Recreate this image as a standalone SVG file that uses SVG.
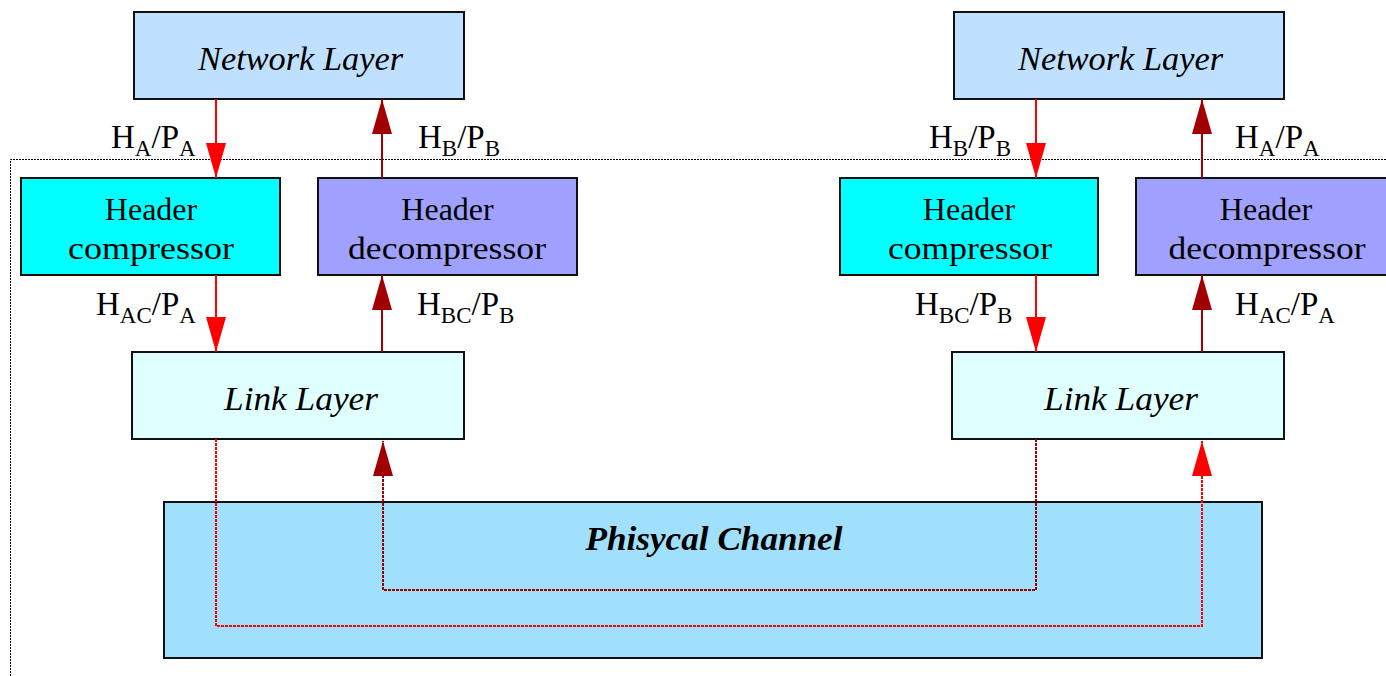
<svg xmlns="http://www.w3.org/2000/svg" width="1386" height="676" viewBox="0 0 1386 676">
  <style>
    .box{stroke:#111;stroke-width:2}
    .net{fill:#C0E0FF}
    .comp{fill:#00FFFF}
    .decomp{fill:#A0A0FF}
    .link{fill:#E0FFFF}
    .phy{fill:#A0E0FC}
    .t{font-family:"Liberation Serif","Times New Roman",serif;font-size:32px;text-anchor:middle;fill:#000}
    .it{font-style:italic;font-size:33px}
    .bi{font-style:italic;font-weight:bold;font-size:34px}
    .lbl{font-family:"Liberation Serif","Times New Roman",serif;font-size:33px;fill:#000}
    .sub{font-size:23px}
    .red{stroke:#FF0000;stroke-width:2;fill:none}
    .dred{stroke:#A00000;stroke-width:2;fill:none}
    .dot{stroke-dasharray:3 1}
    .frame{stroke:#000;stroke-width:1;fill:none;stroke-dasharray:2 1}
  </style>
  <defs>
    <marker id="ahRed" markerUnits="userSpaceOnUse" markerWidth="36" markerHeight="22" refX="35" refY="10" orient="auto">
      <path d="M0,0 L35,10 L0,20 z" fill="#FF0000"/>
    </marker>
    <marker id="ahDark" markerUnits="userSpaceOnUse" markerWidth="36" markerHeight="22" refX="35" refY="10" orient="auto">
      <path d="M0,0 L35,10 L0,20 z" fill="#A00000"/>
    </marker>
  </defs>

  <!-- host boundary -->
  <path class="frame" d="M10.5,676 V159.5 H1386"/>

  <!-- physical channel -->
  <g id="physical-channel">
    <rect class="box phy" x="164" y="502" width="1098" height="156"/>
    <text class="t bi" x="714" y="550" textLength="257" lengthAdjust="spacingAndGlyphs">Phisycal Channel</text>
  </g>

  <!-- host A -->
  <g id="network-a">
    <rect class="box net" x="134" y="12" width="330" height="87"/>
    <text class="t it" x="300.5" y="70" textLength="205" lengthAdjust="spacingAndGlyphs">Network Layer</text>
  </g>
  <g id="compressor-a">
    <rect class="box comp" x="21" y="178" width="259" height="97"/>
    <text class="t" x="151" y="220">Header</text>
    <text class="t" x="151" y="259" textLength="166" lengthAdjust="spacingAndGlyphs">compressor</text>
  </g>
  <g id="decompressor-a">
    <rect class="box decomp" x="318" y="178" width="259" height="97"/>
    <text class="t" x="447.5" y="220">Header</text>
    <text class="t" x="447" y="259" textLength="198" lengthAdjust="spacingAndGlyphs">decompressor</text>
  </g>
  <g id="link-a">
    <rect class="box link" x="132" y="352" width="332" height="87"/>
    <text class="t it" x="301" y="410" textLength="154" lengthAdjust="spacingAndGlyphs">Link Layer</text>
  </g>

  <!-- host B -->
  <g id="network-b">
    <rect class="box net" x="954" y="12" width="330" height="87"/>
    <text class="t it" x="1120.5" y="70" textLength="205" lengthAdjust="spacingAndGlyphs">Network Layer</text>
  </g>
  <g id="compressor-b">
    <rect class="box comp" x="840" y="178" width="258" height="97"/>
    <text class="t" x="969" y="220">Header</text>
    <text class="t" x="970" y="259" textLength="164" lengthAdjust="spacingAndGlyphs">compressor</text>
  </g>
  <g id="decompressor-b">
    <rect class="box decomp" x="1136" y="178" width="262" height="97"/>
    <text class="t" x="1266" y="220">Header</text>
    <text class="t" x="1267" y="259" textLength="197" lengthAdjust="spacingAndGlyphs">decompressor</text>
  </g>
  <g id="link-b">
    <rect class="box link" x="952" y="352" width="332" height="87"/>
    <text class="t it" x="1121" y="410" textLength="154" lengthAdjust="spacingAndGlyphs">Link Layer</text>
  </g>

  <!-- connectors -->
  <g id="connectors">
    <line class="red" x1="216" y1="99" x2="216" y2="178" marker-end="url(#ahRed)"/>
    <line class="dred" x1="382" y1="178" x2="382" y2="99" marker-end="url(#ahDark)"/>
    <line class="red" x1="216" y1="275" x2="216" y2="352" marker-end="url(#ahRed)"/>
    <line class="dred" x1="382" y1="352" x2="382" y2="275" marker-end="url(#ahDark)"/>

    <line class="red" x1="1036" y1="99" x2="1036" y2="178" marker-end="url(#ahRed)"/>
    <line class="dred" x1="1202" y1="178" x2="1202" y2="99" marker-end="url(#ahDark)"/>
    <line class="red" x1="1036" y1="275" x2="1036" y2="352" marker-end="url(#ahRed)"/>
    <line class="dred" x1="1202" y1="352" x2="1202" y2="275" marker-end="url(#ahDark)"/>

    <!-- A to B over the channel -->
    <path class="red dot" d="M216,439 V626 H1202 V441" marker-end="url(#ahRed)"/>
    <!-- B to A over the channel -->
    <path class="dred dot" d="M1036,439 V590 H383 V441" marker-end="url(#ahDark)"/>
  </g>

  <!-- connector labels -->
  <g id="labels">
    <text class="lbl" x="111" y="148">H<tspan class="sub" dy="8">A</tspan><tspan dy="-8">/P</tspan><tspan class="sub" dy="8">A</tspan></text>
    <text class="lbl" x="418" y="148">H<tspan class="sub" dy="8">B</tspan><tspan dy="-8">/P</tspan><tspan class="sub" dy="8">B</tspan></text>
    <text class="lbl" x="96" y="315">H<tspan class="sub" dy="8">AC</tspan><tspan dy="-8">/P</tspan><tspan class="sub" dy="8">A</tspan></text>
    <text class="lbl" x="417" y="315">H<tspan class="sub" dy="8">BC</tspan><tspan dy="-8">/P</tspan><tspan class="sub" dy="8">B</tspan></text>

    <text class="lbl" x="929" y="148">H<tspan class="sub" dy="8">B</tspan><tspan dy="-8">/P</tspan><tspan class="sub" dy="8">B</tspan></text>
    <text class="lbl" x="1235" y="148">H<tspan class="sub" dy="8">A</tspan><tspan dy="-8">/P</tspan><tspan class="sub" dy="8">A</tspan></text>
    <text class="lbl" x="915" y="315">H<tspan class="sub" dy="8">BC</tspan><tspan dy="-8">/P</tspan><tspan class="sub" dy="8">B</tspan></text>
    <text class="lbl" x="1235" y="315">H<tspan class="sub" dy="8">AC</tspan><tspan dy="-8">/P</tspan><tspan class="sub" dy="8">A</tspan></text>
  </g>
</svg>
